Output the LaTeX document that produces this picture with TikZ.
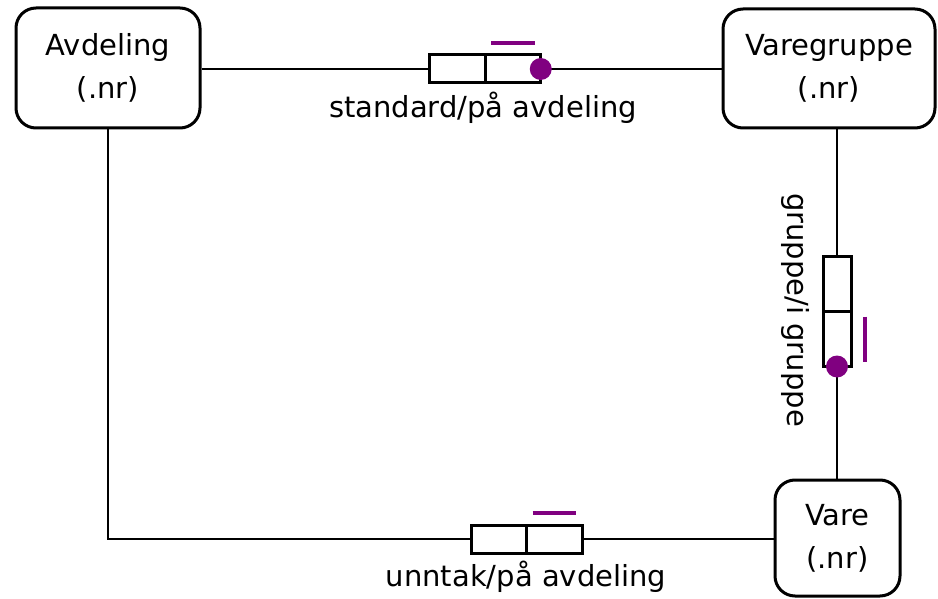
\documentclass[tikz,border=0pt]{standalone}
\usepackage{fontspec}
\setmainfont{DejaVu Sans}
\usepackage{tikz}
\usetikzlibrary{positioning,calc}
\definecolor{relpurple}{RGB}{128,0,128}

\begin{document}
\begin{tikzpicture}[x=1pt,y=-1pt,
    entity/.style={draw, fill=white, line width=3pt, rounded corners=20pt, align=center, inner sep=0pt, font=\fontsize{29}{43}\selectfont},
    half/.style={draw, fill=white, line width=3pt, minimum width=55.5pt, minimum height=28pt, inner sep=0pt, outer sep=0pt},
    vhalf/.style={half, minimum width=28pt, minimum height=55pt},
    lbl/.style={inner sep=0pt, font=\fontsize{29}{34}\selectfont},
    link/.style={line width=2.8pt},
    dot/.style={circle, fill=relpurple, minimum size=22pt, inner sep=0pt},
    bar/.style={line width=4pt, relpurple}]
    \useasboundingbox (0,0) rectangle (938,599);

    % Entities
    \node [entity, minimum width=184pt, minimum height=120pt] (avd) at (108,68) {Avdeling\\(.nr)};
    \node [entity, minimum width=212pt, minimum height=119pt] (vgr) at (829,68.5) {Varegruppe\\(.nr)};
    \node [entity, minimum width=125pt, minimum height=116pt] (vare) at (837.5,538) {Vare\\(.nr)};

    % standard/på avdeling
    \node [half] (std1) at (457.5,69) {};
    \node [half, right=0pt of std1] (std2) {};
    \draw [link] (std1.west -| avd.east) -- (std1.west);
    \draw [link] (std2.east) -- (std2.east -| vgr.west);
    \node [dot] (stddot) at (std2.east) {};
    \draw [bar] ([xshift=6pt,yshift=12pt]std2.north west) -- ([xshift=-6pt,yshift=12pt]std2.north east);
    \node [lbl] (stdlbl) at (483,108) {standard/på avdeling};

    % gruppe/i gruppe
    \node [vhalf] (grp1) at (837,284) {};
    \node [vhalf, below=0pt of grp1] (grp2) {};
    \draw [link] (vgr.south -| grp1.north) -- (grp1.north);
    \draw [link] (grp2.south) -- (grp2.south |- vare.north);
    \node [dot] (grpdot) at (grp2.south) {};
    \draw [bar] ([xshift=14pt,yshift=-5pt]grp2.north east) -- ([xshift=14pt,yshift=5pt]grp2.south east);
    \node [lbl, rotate=-90] (grplbl) at (795,310) {gruppe/i gruppe};

    % unntak/på avdeling
    \node [half] (unn1) at (498.75,539) {};
    \node [half, right=0pt of unn1] (unn2) {};
    \draw [link] (avd.south) |- (unn1.west);
    \draw [link] (unn2.east) -- (unn2.east -| vare.west);
    \draw [bar] ([xshift=6pt,yshift=12pt]unn2.north west) -- ([xshift=-6pt,yshift=12pt]unn2.north east);
    \node [lbl] (unnlbl) at (526,577) {unntak/på avdeling};
\end{tikzpicture}
\end{document}
